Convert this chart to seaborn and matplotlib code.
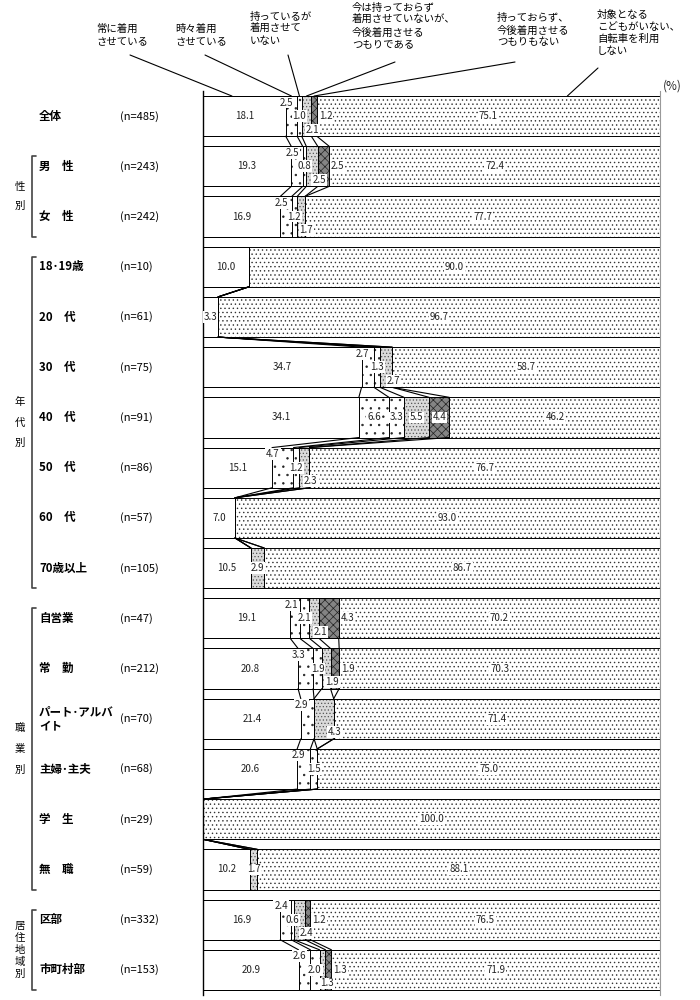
import numpy as np
import pandas as pd
import matplotlib
matplotlib.use("Agg")
import matplotlib.pyplot as plt
import matplotlib.transforms as mtransforms
import seaborn as sns

# ---------------- data ----------------
categories = [
    "常に着用させている",
    "時々着用させている",
    "持っているが着用させていない",
    "今は持っておらず着用させていないが、今後着用させるつもりである",
    "持っておらず、今後着用させるつもりもない",
    "対象となるこどもがいない、自転車を利用しない",
]
header_labels = [
    "常に着用\nさせている",
    "時々着用\nさせている",
    "持っているが\n着用させて\nいない",
    "今は持っておらず\n着用させていないが、\n今後着用させる\nつもりである",
    "持っておらず、\n今後着用させる\nつもりもない",
    "対象となる\nこどもがいない、\n自転車を利用\nしない",
]
row_labels = ["全体", "男　性", "女　性", "18･19歳", "20　代", "30　代", "40　代", "50　代",
              "60　代", "70歳以上", "自営業", "常　勤", "パート･アルバ\nイト", "主婦･主夫",
              "学　生", "無　職", "区部", "市町村部"]
n_labels = ["(n=485)", "(n=243)", "(n=242)", "(n=10)", "(n=61)", "(n=75)", "(n=91)", "(n=86)",
            "(n=57)", "(n=105)", "(n=47)", "(n=212)", "(n=70)", "(n=68)", "(n=29)", "(n=59)",
            "(n=332)", "(n=153)"]

always         = [18.1, 19.3, 16.9, 10.0, 3.3, 34.7, 34.1, 15.1, 7.0, 10.5, 19.1, 20.8, 21.4, 20.6, 0.0, 10.2, 16.9, 20.9]
sometimes      = [2.5, 2.5, 2.5, 0.0, 0.0, 2.7, 6.6, 4.7, 0.0, 0.0, 2.1, 3.3, 2.9, 2.9, 0.0, 0.0, 2.4, 2.6]
have_not_use   = [1.0, 0.8, 1.2, 0.0, 0.0, 1.3, 3.3, 1.2, 0.0, 0.0, 2.1, 1.9, 0.0, 1.5, 0.0, 0.0, 0.6, 2.0]
will_use       = [2.1, 2.5, 1.7, 0.0, 0.0, 2.7, 5.5, 2.3, 0.0, 2.9, 2.1, 1.9, 4.3, 0.0, 0.0, 1.7, 2.4, 1.3]
wont_use       = [1.2, 2.5, 0.0, 0.0, 0.0, 0.0, 4.4, 0.0, 0.0, 0.0, 4.3, 1.9, 0.0, 0.0, 0.0, 0.0, 1.2, 1.3]
not_applicable = [75.1, 72.4, 77.7, 90.0, 96.7, 58.7, 46.2, 76.7, 93.0, 86.7, 70.2, 70.3, 71.4, 75.0, 100.0, 88.1, 76.5, 71.9]

group_labels = ["性\n別", "年\n代\n別", "職\n業\n別", "居\n住\n地\n域\n別"]
group_rows = [(1, 2), (3, 9), (10, 15), (16, 17)]
series_groups = [(0, 2), (3, 9), (10, 15), (16, 17)]

# ---------------- style ----------------
sns.set_theme(style="white")
plt.rcParams["font.family"] = ["Noto Sans CJK JP", "DejaVu Sans"]
plt.rcParams["hatch.linewidth"] = 0.5

faces = ["white", "white", "white", "#dadada", "#848484", "white"]
hatches = [None, "..", "..", ".....", "xxxx", "...."]
hatch_cols = ["white", "#222222", "#222222", "#555555", "#222222", "#333333"]

vals = np.array([always, sometimes, have_not_use, will_use, wont_use, not_applicable]).T
cum = vals.cumsum(axis=1)
starts = cum - vals
nrows = len(row_labels)
bar_h = 0.8

fig = plt.figure(figsize=(7, 10), dpi=100)
ax = fig.add_axes([203 / 700, 0.005, 457 / 700, 0.904])

keys = [f"r{i}" for i in range(nrows)]
# filled stacked bars (longest cumulative first)
for k in range(5, -1, -1):
    df = pd.DataFrame({"row": keys, "value": cum[:, k]})
    sns.barplot(data=df, x="value", y="row", order=keys, orient="h", color="white",
                width=bar_h, errorbar=None, ax=ax)
    for p in ax.containers[-1]:
        p.set_facecolor(faces[k])
        p.set_edgecolor(hatch_cols[k])
        p.set_linewidth(0)
        if hatches[k]:
            p.set_hatch(hatches[k])
# outlines
for k in range(6):
    df = pd.DataFrame({"row": keys, "value": cum[:, k]})
    sns.barplot(data=df, x="value", y="row", order=keys, orient="h", color="white",
                width=bar_h, errorbar=None, ax=ax)
    for p in ax.containers[-1]:
        p.set_facecolor("none")
        p.set_edgecolor("black")
        p.set_linewidth(0.7)
        p.set_hatch(None)

ax.set_xlim(0, 100)
ax.set_ylim(nrows - 0.5, -0.5)
ax.set_xlabel("")
ax.set_ylabel("")
ax.set_xticks([])
ax.set_yticks([])
for s in ["top", "bottom"]:
    ax.spines[s].set_visible(False)
ax.spines["left"].set_color("black")
ax.spines["left"].set_linewidth(1.0)
ax.spines["right"].set_color("#999999")
ax.spines["right"].set_linewidth(0.8)

# series lines inside each group
for g0, g1 in series_groups:
    for i in range(g0, g1):
        for k in range(5):
            ax.plot([cum[i, k], cum[i + 1, k]], [i + bar_h / 2, i + 1 - bar_h / 2],
                    color="black", lw=0.8, zorder=3)

# value labels
box = dict(facecolor="white", edgecolor="none", pad=0.6)
for i in range(nrows):
    small = [k for k in range(1, 5) if vals[i, k] > 0]
    center_all = len(small) <= 1 or all(vals[i, k] >= 3 for k in small)
    for k in range(6):
        v = vals[i, k]
        if v <= 0:
            continue
        s, e = starts[i, k], cum[i, k]
        if k in (0, 5) or center_all:
            x, y, ha = (s + e) / 2, i, "center"
        elif k == 1:
            x, y, ha = s + 0.2, i - 0.27, "center"
        elif k == 2:
            x, y, ha = (s + e) / 2, i, "center"
        elif k == 3:
            x, y, ha = e + 0.3, i + 0.27, "center"
        else:
            x, y, ha = e + 0.4, i, "left"
        ax.text(x, y, f"{v:.1f}", ha=ha, va="center", fontsize=7, color="#222222",
                bbox=box, zorder=5)

# left side labels
blend = mtransforms.blended_transform_factory(fig.transFigure, ax.transData)
for i in range(nrows):
    ax.text(39 / 700, i, row_labels[i], transform=blend, ha="left", va="center",
            fontsize=8.3, fontweight="bold", color="black", linespacing=1.1)
    ax.text(120 / 700, i, n_labels[i], transform=blend, ha="left", va="center",
            fontsize=8, color="black")

group_ls = [2.1, 2.3, 2.4, 1.25]
for (r0, r1), gl, ls in zip(group_rows, group_labels, group_ls):
    y0, y1 = r0 - 0.2, r1 + 0.4
    ax.plot([36 / 700, 32 / 700, 32 / 700, 36 / 700], [y0, y0, y1, y1], transform=blend,
            color="#444444", lw=1.2, clip_on=False)
    ax.text(20 / 700, (y0 + y1) / 2, gl, transform=blend, ha="center", va="center",
            fontsize=7.5, color="black", linespacing=ls)

# header labels with leader lines
text_pos = [(96, 24), (175, 24), (250, 12), (352, 3), (497, 13), (597, 10)]
line_start = [(130, 55), (205, 55), (288, 55), (395, 62), (515, 62), (598, 68)]
anchor_frac = [0.35, 0.5, 0.5, 0.5, 0.5, 0.73]
for k in range(6):
    tx, ty = text_pos[k]
    fig.text(tx / 700, 1 - ty / 1000, header_labels[k], ha="left", va="top",
             fontsize=7.5, color="black", linespacing=1.25)
    lx, ly = line_start[k]
    xa = starts[0, k] + vals[0, k] * anchor_frac[k]
    ax.annotate("", xy=(xa, -bar_h / 2), xycoords="data",
                xytext=(lx / 700, 1 - ly / 1000), textcoords="figure fraction",
                arrowprops=dict(arrowstyle="-", color="black", lw=0.8,
                                shrinkA=0, shrinkB=0), annotation_clip=False)
fig.text(663 / 700, 1 - 86 / 1000, "(%)", ha="left", va="center", fontsize=8.5)

fig.savefig("out.png", dpi=100)
